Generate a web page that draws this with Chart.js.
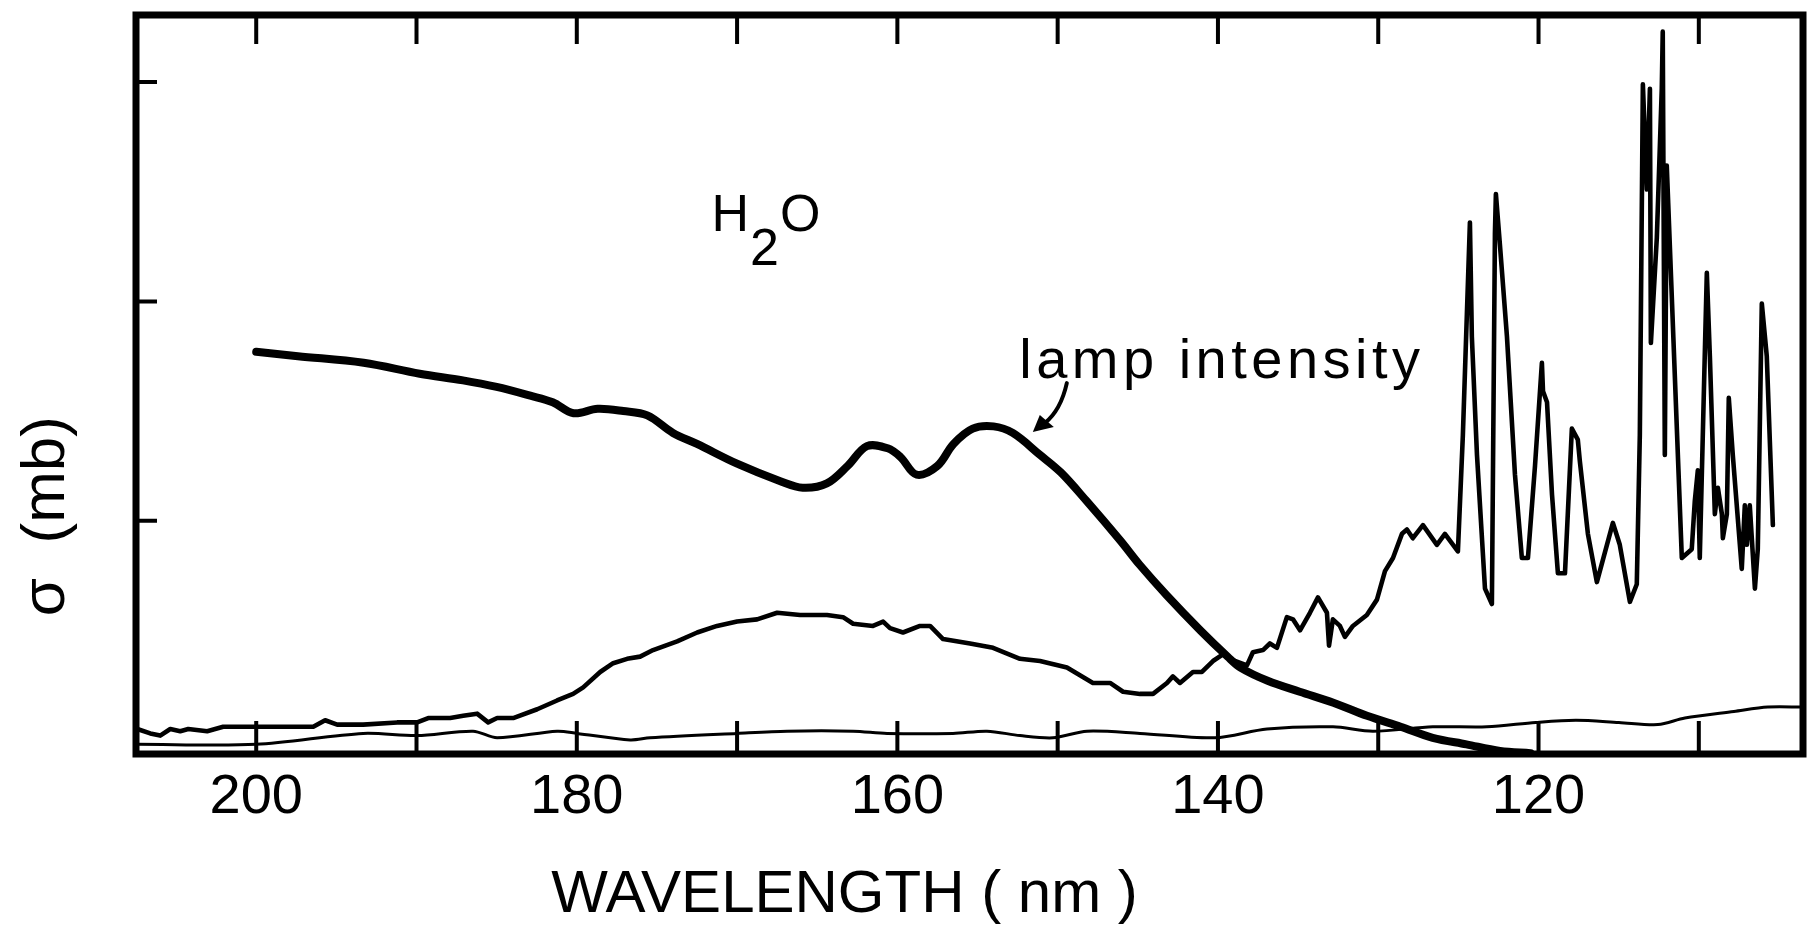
<!DOCTYPE html>
<html><head><meta charset="utf-8">
<script src="https://cdn.jsdelivr.net/npm/chart.js@4"></script>
<style>html,body{margin:0;padding:0;background:#fff;}canvas{display:block}</style>
</head><body>
<canvas id="c" width="1811" height="927"></canvas>
<script>
// ---- data (wavelength in nm, cross-section in axis units) ----
const lampWavelength = [200.0,197.4,193.3,189.8,187.1,185.0,182.9,181.5,180.2,178.7,177.1,175.6,174.0,172.5,170.0,167.3,165.9,164.4,163.1,161.9,160.6,159.8,158.8,157.5,156.5,155.3,154.0,152.8,151.1,149.8,148.2,146.1,144.9,143.2,141.1,139.4,138.6,136.9,134.9,132.8,130.7,128.6,126.6,124.5,122.4,120.5];
const lampValue = [1.77,1.75,1.72,1.67,1.64,1.61,1.57,1.54,1.49,1.51,1.50,1.48,1.40,1.35,1.26,1.18,1.15,1.17,1.25,1.34,1.33,1.29,1.21,1.25,1.35,1.42,1.43,1.40,1.30,1.22,1.09,0.91,0.80,0.66,0.50,0.38,0.33,0.27,0.22,0.17,0.11,0.06,0.01,-0.02,-0.05,-0.06];

const h2oWavelength = [207.42,206.61,205.99,205.36,204.74,204.24,203.06,202.06,200.56,198.94,197.44,196.44,195.70,194.95,193.33,191.21,189.96,189.27,187.90,187.09,186.22,185.53,184.97,183.97,182.47,181.23,180.23,179.60,178.54,177.73,176.86,176.05,175.24,173.74,172.49,171.25,170.00,168.75,167.50,166.07,164.39,163.39,162.76,161.52,160.89,160.46,159.65,158.59,157.96,157.15,155.47,154.03,152.35,151.10,149.42,147.80,146.73,145.92,144.86,144.05,143.18,142.81,142.37,141.56,141.00,140.31,139.69,138.94,138.19,137.82,137.19,136.76,136.32,135.70,135.32,134.88,134.26,133.76,133.20,133.07,132.83,132.39,132.08,131.58,130.71,130.08,129.58,129.08,128.52,128.21,127.84,127.21,126.34,125.84,125.03,124.72,124.28,124.16,123.84,123.34,122.91,122.72,122.66,122.41,121.97,121.47,121.04,120.66,120.22,119.79,119.72,119.47,119.16,118.79,118.35,117.92,117.55,117.42,116.92,116.36,115.36,114.93,114.30,113.87,113.68,113.49,113.24,113.05,112.99,112.62,112.31,112.25,112.12,112.00,111.06,110.44,110.25,110.06,109.94,109.63,109.50,109.31,109.00,108.81,108.56,108.50,108.25,108.13,107.88,107.32,107.13,107.00,106.82,106.50,106.32,106.07,105.76,105.38];
const h2oValue = [0.05,0.03,0.02,0.05,0.04,0.05,0.04,0.06,0.06,0.06,0.06,0.06,0.09,0.07,0.07,0.08,0.08,0.10,0.10,0.11,0.12,0.08,0.10,0.10,0.14,0.18,0.21,0.24,0.31,0.35,0.37,0.38,0.41,0.45,0.49,0.52,0.54,0.55,0.58,0.57,0.57,0.56,0.53,0.52,0.54,0.51,0.49,0.52,0.52,0.46,0.44,0.42,0.37,0.36,0.33,0.26,0.26,0.22,0.21,0.21,0.26,0.29,0.26,0.31,0.31,0.36,0.39,0.36,0.34,0.40,0.41,0.44,0.42,0.56,0.55,0.50,0.58,0.65,0.58,0.43,0.55,0.52,0.47,0.52,0.57,0.64,0.77,0.83,0.94,0.96,0.92,0.98,0.89,0.94,0.86,1.39,2.36,1.84,1.30,0.69,0.62,2.31,2.49,2.26,1.84,1.21,0.83,0.83,1.25,1.72,1.59,1.54,1.12,0.76,0.76,1.42,1.37,1.27,0.94,0.72,0.99,0.89,0.63,0.71,1.39,2.99,2.51,2.97,1.81,2.29,2.97,3.23,1.30,2.62,0.83,0.87,1.09,1.23,0.83,1.75,2.13,1.75,1.03,1.15,1.03,0.92,1.03,1.56,1.30,0.78,1.07,0.89,1.07,0.69,0.87,1.99,1.75,0.98];

const baseWavelength = [207.42,200.00,193.33,189.96,186.47,184.97,181.23,179.98,176.67,175.43,170.00,166.88,162.76,160.64,156.53,154.41,152.35,150.29,148.17,144.86,140.19,136.94,132.82,130.33,126.59,123.22,120.17,117.67,114.99,112.55,110.87,107.81,105.69,103.51];
const baseValue = [-0.02,-0.02,0.03,0.02,0.04,0.01,0.04,0.03,0.00,0.01,0.03,0.04,0.04,0.03,0.03,0.04,0.02,0.01,0.04,0.03,0.01,0.05,0.06,0.04,0.06,0.06,0.08,0.09,0.08,0.07,0.10,0.13,0.15,0.15];

const xLabelTicks = [200, 180, 160, 140, 120];
const xMarkTicks = [200, 190, 180, 170, 160, 150, 140, 130, 120, 110];
const yMarkTicks = [1, 2, 3];
const xTitle = 'WAVELENGTH ( nm )';
const yTitle = 'σ  (mb)';
const moleculeLabel = ['H', '2', 'O'];
const lampLabel = 'lamp intensity';

// ---- annotation anchors (data coordinates) ----
const moleculeAt = {x: 171.6, y: 2.32};
const lampLabelAt = {x: 152.4, y: 1.651};
const arrowTipAt = {x: 151.55, y: 1.404};

function pts(xs, ys) { return xs.map((x, i) => ({x: x, y: ys[i]})); }

const FONT = '"Liberation Sans", Arial, sans-serif';

const framePlugin = {
  id: 'frame',
  afterDatasetsDraw(chart) {
    const {ctx, chartArea: a, scales} = chart;
    const xs = scales.x, ys = scales.y;
    ctx.save();
    ctx.strokeStyle = '#000';
    ctx.fillStyle = '#000';
    // inward tick marks
    ctx.lineWidth = 4;
    ctx.lineCap = 'butt';
    ctx.beginPath();
    for (const v of xMarkTicks) {
      const px = xs.getPixelForValue(v);
      ctx.moveTo(px, a.bottom); ctx.lineTo(px, a.bottom - 33);
      ctx.moveTo(px, a.top); ctx.lineTo(px, a.top + 29);
    }
    for (const v of yMarkTicks) {
      const py = ys.getPixelForValue(v);
      ctx.moveTo(a.left, py); ctx.lineTo(a.left + 21, py);
    }
    ctx.stroke();
    // frame
    ctx.lineWidth = 7;
    ctx.lineJoin = 'miter';
    ctx.strokeRect(a.left, a.top, a.right - a.left, a.bottom - a.top);

    // H2O label
    ctx.font = '52px ' + FONT;
    ctx.textBaseline = 'alphabetic';
    ctx.textAlign = 'left';
    let hx = xs.getPixelForValue(moleculeAt.x);
    const hy = ys.getPixelForValue(moleculeAt.y);
    ctx.fillText(moleculeLabel[0], hx, hy);
    hx += ctx.measureText(moleculeLabel[0]).width + 1;
    ctx.fillText(moleculeLabel[1], hx, hy + 34);
    hx += ctx.measureText(moleculeLabel[1]).width + 1;
    ctx.fillText(moleculeLabel[2], hx, hy);

    // lamp intensity label
    ctx.font = '56px ' + FONT;
    try { ctx.letterSpacing = '4.5px'; } catch (e) {}
    ctx.fillText(lampLabel, xs.getPixelForValue(lampLabelAt.x), ys.getPixelForValue(lampLabelAt.y));
    try { ctx.letterSpacing = '0px'; } catch (e) {}

    // arrow
    const tx = xs.getPixelForValue(arrowTipAt.x), ty = ys.getPixelForValue(arrowTipAt.y);
    ctx.lineWidth = 4;
    ctx.lineCap = 'round';
    ctx.beginPath();
    ctx.moveTo(tx + 34, ty - 49);
    ctx.quadraticCurveTo(tx + 28, ty - 22, tx + 12, ty - 9);
    ctx.stroke();
    ctx.beginPath();
    ctx.moveTo(tx, ty);
    ctx.lineTo(tx + 7, ty - 17);
    ctx.lineTo(tx + 21, ty - 5);
    ctx.closePath();
    ctx.fill();
    ctx.restore();
  }
};

new Chart(document.getElementById('c'), {
  type: 'line',
  data: {
    datasets: [
      {
        label: 'lamp intensity',
        data: pts(lampWavelength, lampValue),
        borderColor: '#000', borderWidth: 8, pointRadius: 0,
        tension: 0.35, borderCapStyle: 'round', borderJoinStyle: 'round', fill: false
      },
      {
        label: 'H2O',
        data: pts(h2oWavelength, h2oValue),
        borderColor: '#000', borderWidth: 4.6, pointRadius: 0,
        tension: 0, borderCapStyle: 'round', borderJoinStyle: 'round', fill: false
      },
      {
        label: 'baseline',
        data: pts(baseWavelength, baseValue),
        borderColor: '#000', borderWidth: 3, pointRadius: 0,
        tension: 0.3, borderCapStyle: 'round', borderJoinStyle: 'round', fill: false
      }
    ]
  },
  options: {
    responsive: false,
    animation: false,
    devicePixelRatio: 1,
    layout: {padding: {left: 0, right: 8, top: 15, bottom: 0}},
    plugins: {legend: {display: false}, tooltip: {enabled: false}, title: {display: false}},
    scales: {
      x: {
        type: 'linear', reverse: true, min: 103.5, max: 207.5,
        grid: {display: false}, border: {display: false},
        afterBuildTicks: (s) => { s.ticks = xLabelTicks.map(v => ({value: v})); },
        afterFit: (s) => { s.height = 173; },
        ticks: {
          color: '#000', padding: 8, maxRotation: 0, autoSkip: false,
          font: {family: FONT, size: 56, lineHeight: 1},
          callback: (v) => String(v)
        },
        title: {
          display: true, text: xTitle + ' '.repeat(15), color: '#000',
          font: {family: FONT, size: 60, lineHeight: 1},
          padding: {top: 0, bottom: 2}
        }
      },
      y: {
        type: 'linear', min: -0.064, max: 3.306,
        grid: {display: false}, border: {display: false},
        ticks: {display: false},
        afterBuildTicks: (s) => { s.ticks = yMarkTicks.map(v => ({value: v})); },
        afterFit: (s) => { s.width = 136; },
        title: {
          display: true, text: ' '.repeat(8) + yTitle, align: 'start', color: '#000',
          font: {family: FONT, size: 62, lineHeight: 1},
          padding: {top: 16, bottom: 0}
        }
      }
    }
  },
  plugins: [framePlugin]
});
</script>
</body></html>
